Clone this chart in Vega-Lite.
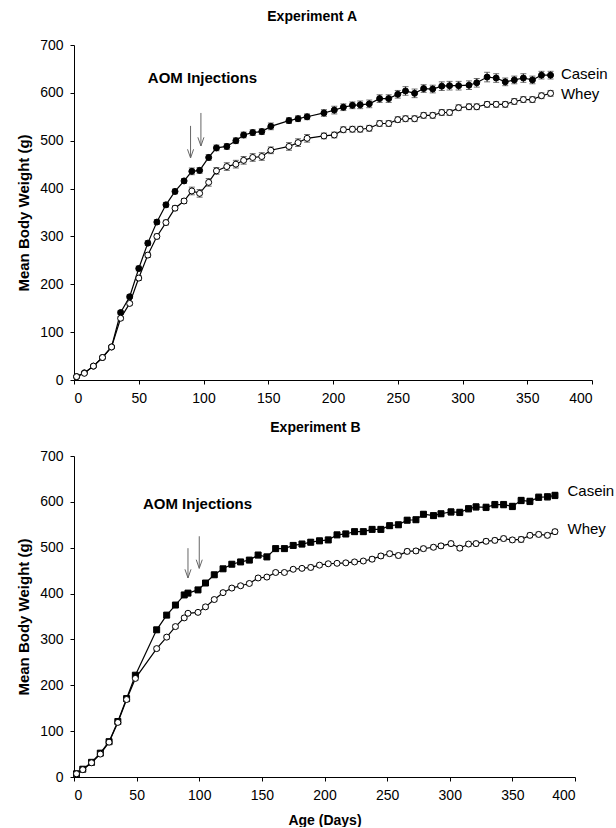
{
"$schema": "https://vega.github.io/schema/vega-lite/v6.json",
"background": "white",
"padding": {"left": 16, "top": 10, "right": 2, "bottom": 0},
"spacing": 16,
"config": {
  "view": {"stroke": null},
  "font": "Liberation Sans",
  "axis": {"grid": false, "domainColor": "black", "tickColor": "black", "labelColor": "black", "labelFont": "Liberation Sans", "labelFontSize": 14, "tickSize": 4, "labelPadding": 7, "titleFont": "Liberation Sans", "titleFontSize": 15, "titleFontWeight": "bold", "titleColor": "black"},
  "title": {"font": "Liberation Sans", "fontSize": 14, "fontWeight": "bold", "color": "black", "anchor": "middle", "frame": "bounds", "offset": 14}
},
"datasets": {
  "A": [
    {"diet":"Casein","day":2,"w":7,"err":1},{"diet":"Casein","day":8,"w":15,"err":1},{"diet":"Casein","day":15,"w":29,"err":2},{"diet":"Casein","day":22,"w":47,"err":2},{"diet":"Casein","day":29,"w":69,"err":3},{"diet":"Casein","day":36,"w":141,"err":4},{"diet":"Casein","day":43,"w":174,"err":4},{"diet":"Casein","day":50,"w":233,"err":5},{"diet":"Casein","day":57,"w":286,"err":5},{"diet":"Casein","day":64,"w":330,"err":5},{"diet":"Casein","day":71,"w":366,"err":5},{"diet":"Casein","day":78,"w":394,"err":5},{"diet":"Casein","day":85,"w":416,"err":5},{"diet":"Casein","day":91,"w":436,"err":7},{"diet":"Casein","day":97,"w":438,"err":6},{"diet":"Casein","day":104,"w":465,"err":6},{"diet":"Casein","day":110,"w":485,"err":6},{"diet":"Casein","day":118,"w":488,"err":6},{"diet":"Casein","day":125,"w":500,"err":6},{"diet":"Casein","day":131,"w":512,"err":6},{"diet":"Casein","day":138,"w":517,"err":6},{"diet":"Casein","day":145,"w":519,"err":6},{"diet":"Casein","day":152,"w":530,"err":7},{"diet":"Casein","day":166,"w":542,"err":6},{"diet":"Casein","day":173,"w":546,"err":6},{"diet":"Casein","day":180,"w":550,"err":6},{"diet":"Casein","day":193,"w":558,"err":7},{"diet":"Casein","day":201,"w":564,"err":8},{"diet":"Casein","day":208,"w":570,"err":7},{"diet":"Casein","day":215,"w":574,"err":7},{"diet":"Casein","day":221,"w":575,"err":8},{"diet":"Casein","day":228,"w":577,"err":8},{"diet":"Casein","day":236,"w":588,"err":8},{"diet":"Casein","day":243,"w":588,"err":8},{"diet":"Casein","day":250,"w":597,"err":8},{"diet":"Casein","day":256,"w":604,"err":9},{"diet":"Casein","day":263,"w":599,"err":9},{"diet":"Casein","day":270,"w":609,"err":8},{"diet":"Casein","day":277,"w":608,"err":8},{"diet":"Casein","day":284,"w":614,"err":9},{"diet":"Casein","day":290,"w":615,"err":9},{"diet":"Casein","day":297,"w":615,"err":9},{"diet":"Casein","day":305,"w":616,"err":9},{"diet":"Casein","day":311,"w":621,"err":9},{"diet":"Casein","day":319,"w":633,"err":10},{"diet":"Casein","day":326,"w":631,"err":9},{"diet":"Casein","day":333,"w":623,"err":8},{"diet":"Casein","day":340,"w":627,"err":8},{"diet":"Casein","day":347,"w":631,"err":9},{"diet":"Casein","day":354,"w":627,"err":8},{"diet":"Casein","day":361,"w":637,"err":8},{"diet":"Casein","day":368,"w":637,"err":8},
    {"diet":"Whey","day":2,"w":7,"err":1},{"diet":"Whey","day":8,"w":14,"err":1},{"diet":"Whey","day":15,"w":29,"err":2},{"diet":"Whey","day":22,"w":47,"err":2},{"diet":"Whey","day":29,"w":69,"err":3},{"diet":"Whey","day":36,"w":129,"err":4},{"diet":"Whey","day":43,"w":160,"err":4},{"diet":"Whey","day":50,"w":213,"err":5},{"diet":"Whey","day":57,"w":261,"err":5},{"diet":"Whey","day":64,"w":300,"err":5},{"diet":"Whey","day":71,"w":329,"err":5},{"diet":"Whey","day":78,"w":359,"err":5},{"diet":"Whey","day":85,"w":374,"err":5},{"diet":"Whey","day":91,"w":395,"err":8},{"diet":"Whey","day":97,"w":390,"err":8},{"diet":"Whey","day":104,"w":413,"err":8},{"diet":"Whey","day":110,"w":437,"err":7},{"diet":"Whey","day":118,"w":446,"err":8},{"diet":"Whey","day":125,"w":451,"err":8},{"diet":"Whey","day":131,"w":459,"err":8},{"diet":"Whey","day":138,"w":465,"err":8},{"diet":"Whey","day":145,"w":467,"err":8},{"diet":"Whey","day":152,"w":480,"err":7},{"diet":"Whey","day":166,"w":488,"err":8},{"diet":"Whey","day":173,"w":496,"err":8},{"diet":"Whey","day":180,"w":505,"err":8},{"diet":"Whey","day":193,"w":510,"err":6},{"diet":"Whey","day":201,"w":512,"err":6},{"diet":"Whey","day":208,"w":523,"err":6},{"diet":"Whey","day":215,"w":524,"err":6},{"diet":"Whey","day":221,"w":524,"err":6},{"diet":"Whey","day":228,"w":526,"err":6},{"diet":"Whey","day":236,"w":536,"err":6},{"diet":"Whey","day":243,"w":536,"err":6},{"diet":"Whey","day":250,"w":544,"err":6},{"diet":"Whey","day":256,"w":546,"err":6},{"diet":"Whey","day":263,"w":546,"err":6},{"diet":"Whey","day":270,"w":553,"err":6},{"diet":"Whey","day":277,"w":553,"err":6},{"diet":"Whey","day":284,"w":559,"err":6},{"diet":"Whey","day":290,"w":559,"err":6},{"diet":"Whey","day":297,"w":569,"err":6},{"diet":"Whey","day":305,"w":571,"err":6},{"diet":"Whey","day":311,"w":571,"err":6},{"diet":"Whey","day":319,"w":576,"err":6},{"diet":"Whey","day":326,"w":576,"err":6},{"diet":"Whey","day":333,"w":576,"err":6},{"diet":"Whey","day":340,"w":582,"err":6},{"diet":"Whey","day":347,"w":586,"err":6},{"diet":"Whey","day":354,"w":586,"err":6},{"diet":"Whey","day":361,"w":594,"err":6},{"diet":"Whey","day":368,"w":599,"err":6}
  ],
  "B": [
    {"diet":"Casein","day":2,"w":7,"err":1},{"diet":"Casein","day":7,"w":17,"err":1},{"diet":"Casein","day":14,"w":32,"err":2},{"diet":"Casein","day":21,"w":52,"err":2},{"diet":"Casein","day":28,"w":77,"err":3},{"diet":"Casein","day":35,"w":121,"err":3},{"diet":"Casein","day":42,"w":171,"err":4},{"diet":"Casein","day":49,"w":222,"err":4},{"diet":"Casein","day":66,"w":321,"err":5},{"diet":"Casein","day":74,"w":353,"err":5},{"diet":"Casein","day":81,"w":375,"err":5},{"diet":"Casein","day":88,"w":397,"err":5},{"diet":"Casein","day":91,"w":401,"err":5},{"diet":"Casein","day":99,"w":408,"err":5},{"diet":"Casein","day":105,"w":423,"err":5},{"diet":"Casein","day":112,"w":441,"err":5},{"diet":"Casein","day":119,"w":454,"err":5},{"diet":"Casein","day":126,"w":464,"err":5},{"diet":"Casein","day":133,"w":469,"err":5},{"diet":"Casein","day":140,"w":473,"err":5},{"diet":"Casein","day":147,"w":484,"err":6},{"diet":"Casein","day":154,"w":480,"err":6},{"diet":"Casein","day":161,"w":498,"err":6},{"diet":"Casein","day":168,"w":498,"err":6},{"diet":"Casein","day":175,"w":505,"err":6},{"diet":"Casein","day":182,"w":508,"err":6},{"diet":"Casein","day":189,"w":512,"err":6},{"diet":"Casein","day":196,"w":515,"err":6},{"diet":"Casein","day":203,"w":517,"err":6},{"diet":"Casein","day":210,"w":528,"err":6},{"diet":"Casein","day":217,"w":530,"err":6},{"diet":"Casein","day":224,"w":535,"err":6},{"diet":"Casein","day":231,"w":535,"err":6},{"diet":"Casein","day":238,"w":540,"err":6},{"diet":"Casein","day":245,"w":540,"err":6},{"diet":"Casein","day":252,"w":548,"err":6},{"diet":"Casein","day":259,"w":550,"err":6},{"diet":"Casein","day":266,"w":560,"err":6},{"diet":"Casein","day":273,"w":561,"err":6},{"diet":"Casein","day":279,"w":573,"err":6},{"diet":"Casein","day":287,"w":570,"err":6},{"diet":"Casein","day":293,"w":574,"err":6},{"diet":"Casein","day":301,"w":578,"err":7},{"diet":"Casein","day":308,"w":577,"err":7},{"diet":"Casein","day":315,"w":585,"err":7},{"diet":"Casein","day":321,"w":589,"err":7},{"diet":"Casein","day":329,"w":588,"err":7},{"diet":"Casein","day":336,"w":594,"err":7},{"diet":"Casein","day":343,"w":594,"err":7},{"diet":"Casein","day":350,"w":590,"err":7},{"diet":"Casein","day":357,"w":603,"err":7},{"diet":"Casein","day":364,"w":601,"err":7},{"diet":"Casein","day":371,"w":610,"err":7},{"diet":"Casein","day":378,"w":611,"err":7},{"diet":"Casein","day":384,"w":614,"err":7},
    {"diet":"Whey","day":2,"w":7,"err":1},{"diet":"Whey","day":7,"w":16,"err":1},{"diet":"Whey","day":14,"w":31,"err":2},{"diet":"Whey","day":21,"w":50,"err":2},{"diet":"Whey","day":28,"w":76,"err":3},{"diet":"Whey","day":35,"w":119,"err":3},{"diet":"Whey","day":42,"w":169,"err":4},{"diet":"Whey","day":49,"w":215,"err":4},{"diet":"Whey","day":66,"w":280,"err":4},{"diet":"Whey","day":74,"w":305,"err":4},{"diet":"Whey","day":81,"w":328,"err":4},{"diet":"Whey","day":88,"w":347,"err":4},{"diet":"Whey","day":91,"w":357,"err":4},{"diet":"Whey","day":99,"w":359,"err":4},{"diet":"Whey","day":105,"w":371,"err":4},{"diet":"Whey","day":112,"w":387,"err":4},{"diet":"Whey","day":119,"w":402,"err":4},{"diet":"Whey","day":126,"w":412,"err":4},{"diet":"Whey","day":133,"w":417,"err":4},{"diet":"Whey","day":140,"w":422,"err":4},{"diet":"Whey","day":147,"w":434,"err":4},{"diet":"Whey","day":154,"w":436,"err":4},{"diet":"Whey","day":161,"w":446,"err":4},{"diet":"Whey","day":168,"w":446,"err":4},{"diet":"Whey","day":175,"w":453,"err":4},{"diet":"Whey","day":182,"w":455,"err":4},{"diet":"Whey","day":189,"w":457,"err":5},{"diet":"Whey","day":196,"w":462,"err":4},{"diet":"Whey","day":203,"w":465,"err":4},{"diet":"Whey","day":210,"w":466,"err":4},{"diet":"Whey","day":217,"w":467,"err":4},{"diet":"Whey","day":224,"w":469,"err":4},{"diet":"Whey","day":231,"w":471,"err":4},{"diet":"Whey","day":238,"w":475,"err":5},{"diet":"Whey","day":245,"w":482,"err":5},{"diet":"Whey","day":252,"w":487,"err":5},{"diet":"Whey","day":259,"w":483,"err":5},{"diet":"Whey","day":266,"w":492,"err":5},{"diet":"Whey","day":273,"w":493,"err":5},{"diet":"Whey","day":279,"w":498,"err":5},{"diet":"Whey","day":287,"w":501,"err":5},{"diet":"Whey","day":293,"w":504,"err":5},{"diet":"Whey","day":301,"w":509,"err":5},{"diet":"Whey","day":308,"w":499,"err":5},{"diet":"Whey","day":315,"w":508,"err":5},{"diet":"Whey","day":321,"w":509,"err":5},{"diet":"Whey","day":329,"w":514,"err":5},{"diet":"Whey","day":336,"w":516,"err":5},{"diet":"Whey","day":343,"w":520,"err":5},{"diet":"Whey","day":350,"w":517,"err":5},{"diet":"Whey","day":357,"w":518,"err":6},{"diet":"Whey","day":364,"w":527,"err":5},{"diet":"Whey","day":371,"w":529,"err":5},{"diet":"Whey","day":378,"w":527,"err":5},{"diet":"Whey","day":384,"w":535,"err":5}
  ]
},
"vconcat": [
  {
    "title": {"text": "Experiment A"},
    "width": 518, "height": 335,
    "encoding": {
      "x": {"type": "quantitative", "scale": {"domain": [0, 400], "nice": false}, "axis": {"values": [0,50,100,150,200,250,300,350,400], "title": null}},
      "y": {"type": "quantitative", "scale": {"domain": [0, 700], "nice": false}, "axis": {"values": [0,100,200,300,400,500,600,700], "title": "Mean Body Weight (g)", "titlePadding": 8}}
    },
    "layer": [
      {"data": {"name": "A"}, "mark": {"type": "line", "color": "black", "strokeWidth": 1.2}, "encoding": {"x": {"field": "day"}, "y": {"field": "w"}, "detail": {"field": "diet"}}},
      {"data": {"name": "A"}, "mark": {"type": "errorbar", "ticks": {"size": 6}, "color": "#333", "thickness": 1}, "encoding": {"x": {"field": "day", "type": "quantitative"}, "y": {"field": "w", "type": "quantitative"}, "yError": {"field": "err"}}},
      {"data": {"name": "A"}, "mark": {"type": "point", "filled": true, "size": 36, "stroke": "black", "strokeWidth": 1, "opacity": 1}, "encoding": {"x": {"field": "day"}, "y": {"field": "w"}, "fill": {"field": "diet", "type": "nominal", "scale": {"domain": ["Casein", "Whey"], "range": ["black", "white"]}, "legend": null}}},
      {"data": {"values": [{"label": "Casein"}]}, "mark": {"type": "text", "align": "left", "baseline": "middle", "fontSize": 15, "color": "black"}, "encoding": {"x": {"datum": 376}, "y": {"datum": 640}, "text": {"field": "label"}}},
      {"data": {"values": [{"label": "Whey"}]}, "mark": {"type": "text", "align": "left", "baseline": "middle", "fontSize": 15, "color": "black"}, "encoding": {"x": {"datum": 376}, "y": {"datum": 597}, "text": {"field": "label"}}},
      {"data": {"values": [{"label": "AOM Injections"}]}, "mark": {"type": "text", "align": "left", "baseline": "middle", "fontSize": 15, "fontWeight": "bold", "color": "black"}, "encoding": {"x": {"datum": 57}, "y": {"datum": 631}, "text": {"field": "label"}}},
      {"data": {"values": [{"arrow": 1}]}, "mark": {"type": "rule", "color": "#666", "strokeWidth": 1}, "encoding": {"x": {"datum": 90}, "y": {"datum": 531}, "y2": {"datum": 464}}},
      {"data": {"values": [{"arrow": 2}]}, "mark": {"type": "rule", "color": "#666", "strokeWidth": 1}, "encoding": {"x": {"datum": 98}, "y": {"datum": 558}, "y2": {"datum": 489}}},
      {"data": {"values": [{"arrow": 1}]}, "mark": {"type": "point", "shape": "M-0.35,-1L0,0L0.35,-1", "size": 300, "stroke": "#666", "strokeWidth": 1, "filled": false, "opacity": 1}, "encoding": {"x": {"datum": 90}, "y": {"datum": 464}}},
      {"data": {"values": [{"arrow": 2}]}, "mark": {"type": "point", "shape": "M-0.35,-1L0,0L0.35,-1", "size": 300, "stroke": "#666", "strokeWidth": 1, "filled": false, "opacity": 1}, "encoding": {"x": {"datum": 98}, "y": {"datum": 489}}}
    ]
  },
  {
    "title": {"text": "Experiment B"},
    "width": 501, "height": 321,
    "encoding": {
      "x": {"type": "quantitative", "scale": {"domain": [0, 400], "nice": false}, "axis": {"values": [0,50,100,150,200,250,300,350,400], "title": "Age (Days)", "titleFontSize": 14, "titlePadding": 11}},
      "y": {"type": "quantitative", "scale": {"domain": [0, 700], "nice": false}, "axis": {"values": [0,100,200,300,400,500,600,700], "title": "Mean Body Weight (g)", "titlePadding": 8}}
    },
    "layer": [
      {"data": {"name": "B"}, "mark": {"type": "line", "color": "black", "strokeWidth": 1.2}, "encoding": {"x": {"field": "day"}, "y": {"field": "w"}, "detail": {"field": "diet"}}},
      {"data": {"name": "B"}, "mark": {"type": "errorbar", "ticks": {"size": 6}, "color": "#333", "thickness": 1}, "encoding": {"x": {"field": "day", "type": "quantitative"}, "y": {"field": "w", "type": "quantitative"}, "yError": {"field": "err"}}},
      {"data": {"name": "B"}, "mark": {"type": "point", "filled": true, "size": 36, "stroke": "black", "strokeWidth": 1, "opacity": 1}, "encoding": {"x": {"field": "day"}, "y": {"field": "w"}, "fill": {"field": "diet", "type": "nominal", "scale": {"domain": ["Casein", "Whey"], "range": ["black", "white"]}, "legend": null}, "shape": {"field": "diet", "type": "nominal", "scale": {"domain": ["Casein", "Whey"], "range": ["square", "circle"]}, "legend": null}}},
      {"data": {"values": [{"label": "Casein"}]}, "mark": {"type": "text", "align": "left", "baseline": "middle", "fontSize": 15, "color": "black"}, "encoding": {"x": {"datum": 394}, "y": {"datum": 623}, "text": {"field": "label"}}},
      {"data": {"values": [{"label": "Whey"}]}, "mark": {"type": "text", "align": "left", "baseline": "middle", "fontSize": 15, "color": "black"}, "encoding": {"x": {"datum": 394}, "y": {"datum": 540}, "text": {"field": "label"}}},
      {"data": {"values": [{"label": "AOM Injections"}]}, "mark": {"type": "text", "align": "left", "baseline": "middle", "fontSize": 15, "fontWeight": "bold", "color": "black"}, "encoding": {"x": {"datum": 55}, "y": {"datum": 595}, "text": {"field": "label"}}},
      {"data": {"values": [{"arrow": 1}]}, "mark": {"type": "rule", "color": "#666", "strokeWidth": 1}, "encoding": {"x": {"datum": 91}, "y": {"datum": 499}, "y2": {"datum": 434}}},
      {"data": {"values": [{"arrow": 2}]}, "mark": {"type": "rule", "color": "#666", "strokeWidth": 1}, "encoding": {"x": {"datum": 100}, "y": {"datum": 525}, "y2": {"datum": 455}}},
      {"data": {"values": [{"arrow": 1}]}, "mark": {"type": "point", "shape": "M-0.35,-1L0,0L0.35,-1", "size": 300, "stroke": "#666", "strokeWidth": 1, "filled": false, "opacity": 1}, "encoding": {"x": {"datum": 91}, "y": {"datum": 434}}},
      {"data": {"values": [{"arrow": 2}]}, "mark": {"type": "point", "shape": "M-0.35,-1L0,0L0.35,-1", "size": 300, "stroke": "#666", "strokeWidth": 1, "filled": false, "opacity": 1}, "encoding": {"x": {"datum": 100}, "y": {"datum": 455}}}
    ]
  }
]
}
